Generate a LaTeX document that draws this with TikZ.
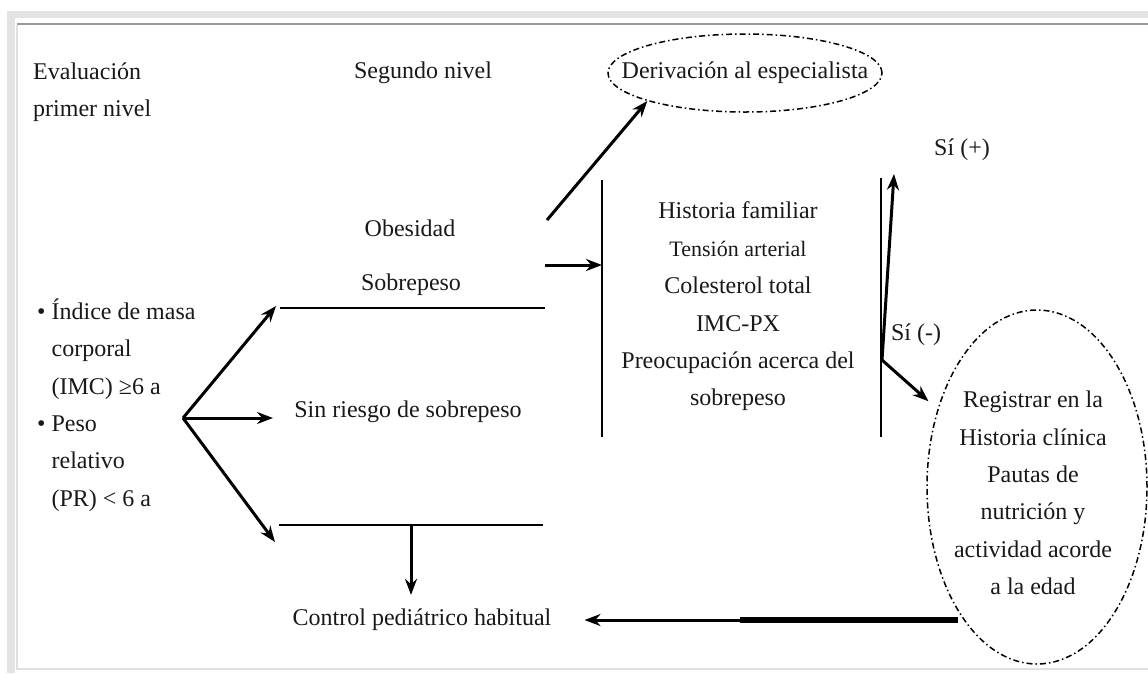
\documentclass[tikz,border=0pt]{standalone}
\usepackage{fontspec}
\setmainfont{Liberation Serif}
\usetikzlibrary{arrows.meta,shapes.geometric}
\begin{document}
\begin{tikzpicture}[x=1pt,y=-1pt,
  txt/.style={font=\fontsize{24}{37.4}\selectfont, inner sep=0pt, text=black!90},
  arr/.style={line width=3pt, -{Stealth[length=16pt,width=12pt]}},
  rule/.style={line width=1.7pt},
  ovalbox/.style={draw, ellipse, line width=1.5pt,
    dash pattern=on 6pt off 3pt on 1.5pt off 3pt, inner sep=0pt}
]
\useasboundingbox (0,0) rectangle (1148,673);

% page frame
\fill[black!11] (7,11) rectangle (1148,18);
\fill[black!11] (7,11) rectangle (15,673);
\draw[black!40, line width=2pt] (17,24) -- (1148,24);
\draw[black!12, line width=1.2pt] (17,25) -- (17,669) -- (1148,669);

% column headings
\node[txt, anchor=west, align=left] (eval) at (33,92.5) {Evaluación\\primer nivel};
\node[txt] (seg) at (423,73) {Segundo nivel};

% referral ellipse
\node[ovalbox, minimum width=274pt, minimum height=78pt] (deriv) at (745,73) {};
\node[txt] (derivtxt) at (deriv.center) {Derivación al especialista};

% first-level criteria
\node[txt, anchor=west, align=left] (crit) at (37,405)
  {\textbullet\ Índice de masa\\
   \hphantom{\textbullet\ }corporal\\
   \hphantom{\textbullet\ }(IMC) ≥6 a\\
   \textbullet\ Peso\\
   \hphantom{\textbullet\ }relativo\\
   \hphantom{\textbullet\ }(PR) < 6 a};

% branch point and outcomes
\coordinate (branch) at (183,418);
\coordinate (uptip) at (276,306);
\coordinate (midtip) at (273,418);
\coordinate (lowtip) at (275,542);
\draw[arr] (branch) -- (uptip);
\draw[arr] (branch) -- (midtip);
\draw[arr] (branch) -- (lowtip);

\node[txt] (obes) at (410,228) {Obesidad};
\node[txt] (sobre) at (411,285) {Sobrepeso};
\node[txt] (sinr) at (408,412) {Sin riesgo de sobrepeso};

\coordinate (upl) at (280,308);
\coordinate (upr) at (545,308);
\draw[rule] (upl) -- (upr);
\coordinate (lowl) at (279,525);
\coordinate (lowr) at (543,525);
\draw[rule] (lowl) -- (lowr);

% second-level assessment block
\coordinate (lvtop) at (602,180);
\coordinate (lvbot) at (602,437);
\coordinate (rvtop) at (881,178);
\coordinate (rvbot) at (881,437);
\draw[rule] (lvtop) -- (lvbot);
\draw[rule] (rvtop) -- (rvbot);

\node[txt, align=center] (assess) at (738,306.5)
  {Historia familiar\\
   {\fontsize{22}{37.4}\selectfont Tensión arterial}\\
   Colesterol total\\
   IMC-PX\\
   Preocupación acerca del\\
   sobrepeso};

\coordinate (obesout) at (547,220);
\draw[arr] (obesout) -- (deriv.196);
\coordinate (sobreout) at (545,265);
\coordinate (lvin) at (602,265);
\draw[arr] (sobreout) -- (lvin);

% outcome of the second level
\coordinate (fork) at (882,360);
\coordinate (postip) at (894,174);
\draw[arr] (fork) -- (postip);
\node[txt] (sipos) at (962,150) {Sí (+)};
\node[txt] (sineg) at (916,335) {Sí (-)};

\node[ovalbox, minimum width=220pt, minimum height=354pt] (reg) at (1037,487) {};
\node[txt, align=center] (regtxt) at (1033,493)
  {Registrar en la\\
   Historia clínica\\
   Pautas de\\
   nutrición y\\
   actividad acorde\\
   a la edad};
\draw[arr, shorten >=12pt] (fork) -- (reg.142);

% usual pediatric follow-up
\node[txt] (control) at (422,620) {Control pediátrico habitual};
\coordinate (lowmid) at (411,525);
\draw[arr, shorten >=14pt] (lowmid) -- (lowmid |- control.north);
\coordinate (retstart) at (958,620);
\coordinate (retmid) at (740,620);
\draw[line width=5.5pt] (retstart) -- (retmid);
\draw[arr, shorten >=33pt] (retmid) -- (control.east);
\end{tikzpicture}
\end{document}
